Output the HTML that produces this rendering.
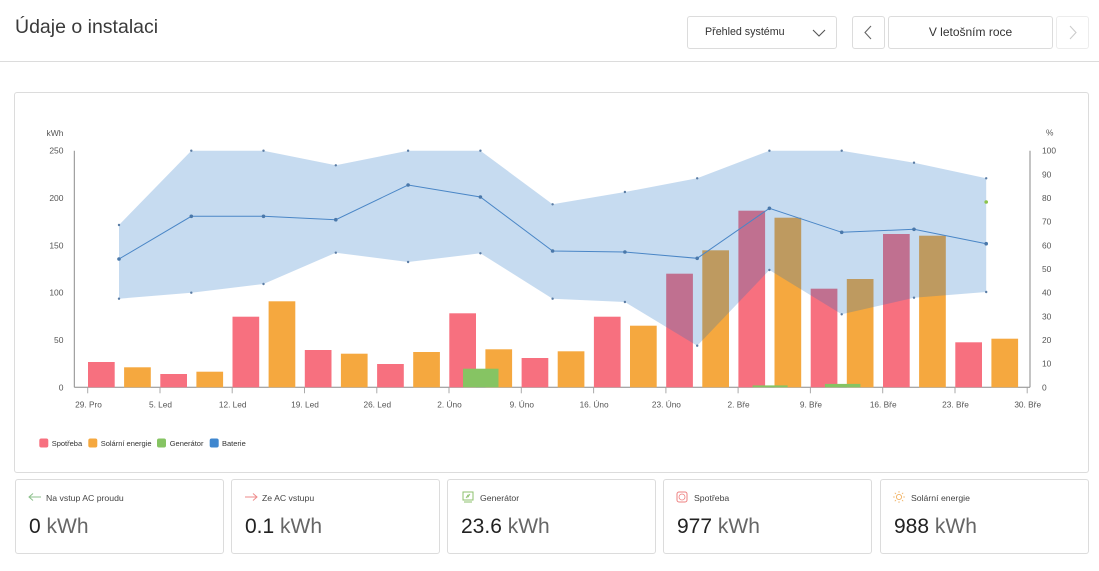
<!DOCTYPE html>
<html>
<head>
<meta charset="utf-8">
<style>
  html,body{margin:0;padding:0;background:#fff;}
  body{width:1099px;height:571px;position:relative;overflow:hidden;font-family:"Liberation Sans",Arial,sans-serif;}
  .title{position:absolute;left:15px;top:14px;font-size:19.5px;color:#3a3a3a;line-height:26px;}
  .hline{position:absolute;left:0;top:61px;width:1099px;height:1px;background:#dcdcdc;}
  .btn{position:absolute;border:1px solid #dcdcdc;border-radius:3px;box-sizing:border-box;background:#fff;}
  .btntext{position:absolute;font-size:10.7px;color:#333;line-height:14px;}
  .card{position:absolute;top:479px;height:75px;width:209px;border:1px solid #dcdcdc;border-radius:3px;box-sizing:border-box;background:#fff;}
  .lbl{position:absolute;left:30px;top:12px;font-size:8.7px;color:#444;line-height:12px;white-space:nowrap;}
  .val{position:absolute;left:13px;top:34px;font-size:21px;color:#222;line-height:26px;white-space:nowrap;}
  .val span{color:#666;}
  .ico{position:absolute;left:12px;top:12px;}
</style>
</head>
<body>
<div class="title">Údaje o instalaci</div>
<div class="hline"></div>

<div class="btn" style="left:687px;top:16px;width:150px;height:33px;"></div>
<div class="btntext" style="left:705px;top:25px;">Přehled systému</div>
<svg style="position:absolute;left:812px;top:28px" width="14" height="10"><polyline points="1,2 7,8 13,2" fill="none" stroke="#555" stroke-width="1.1"/></svg>

<div class="btn" style="left:852px;top:16px;width:33px;height:33px;"></div>
<svg style="position:absolute;left:863px;top:25px" width="10" height="15"><polyline points="8,1 2,7.5 8,14" fill="none" stroke="#666" stroke-width="1.1"/></svg>
<div class="btn" style="left:888px;top:16px;width:165px;height:33px;"></div>
<div class="btntext" style="left:888px;width:165px;text-align:center;top:25px;font-size:12px;">V letošním roce</div>
<div class="btn" style="left:1056px;top:16px;width:33px;height:33px;border-color:#ececec;"></div>
<svg style="position:absolute;left:1068px;top:25px" width="10" height="15"><polyline points="2,1 8,7.5 2,14" fill="none" stroke="#ccc" stroke-width="1.1"/></svg>

<div style="position:absolute;left:14px;top:92px;width:1075px;height:381px;border:1px solid #dcdcdc;border-radius:3px;box-sizing:border-box;"></div>

<svg style="position:absolute;left:0;top:0" width="1099" height="571" font-family="Liberation Sans, Arial, sans-serif">
  <!-- axes -->
  <line x1="74.3" y1="150.7" x2="74.3" y2="387.3" stroke="#8a8a8a" stroke-width="1"/>
  <line x1="1030" y1="150.7" x2="1030" y2="387.3" stroke="#8a8a8a" stroke-width="1"/>
  <line x1="74.3" y1="387.3" x2="1030" y2="387.3" stroke="#8a8a8a" stroke-width="1"/>
  <g stroke="#aaa" stroke-width="1">
    <line x1="87.7" y1="387.3" x2="87.7" y2="393.3"/>
    <line x1="160" y1="387.3" x2="160" y2="393.3"/>
    <line x1="232.2" y1="387.3" x2="232.2" y2="393.3"/>
    <line x1="304.5" y1="387.3" x2="304.5" y2="393.3"/>
    <line x1="376.8" y1="387.3" x2="376.8" y2="393.3"/>
    <line x1="449" y1="387.3" x2="449" y2="393.3"/>
    <line x1="521.3" y1="387.3" x2="521.3" y2="393.3"/>
    <line x1="593.6" y1="387.3" x2="593.6" y2="393.3"/>
    <line x1="665.9" y1="387.3" x2="665.9" y2="393.3"/>
    <line x1="738.1" y1="387.3" x2="738.1" y2="393.3"/>
    <line x1="810.4" y1="387.3" x2="810.4" y2="393.3"/>
    <line x1="882.7" y1="387.3" x2="882.7" y2="393.3"/>
    <line x1="955" y1="387.3" x2="955" y2="393.3"/>
    <line x1="1027.2" y1="387.3" x2="1027.2" y2="393.3"/>
  </g>

  <!-- left y labels -->
  <g font-size="8.5" fill="#555" text-anchor="end">
    <text x="63.5" y="136">kWh</text>
    <text x="63.5" y="153.7">250</text>
    <text x="63.5" y="201">200</text>
    <text x="63.5" y="248.3">150</text>
    <text x="63.5" y="295.6">100</text>
    <text x="63.5" y="343">50</text>
    <text x="63.5" y="390.3">0</text>
  </g>
  <!-- right y labels -->
  <g font-size="8.4" fill="#555" text-anchor="start">
    <text x="1046" y="135.7">%</text>
    <text x="1042" y="153.7">100</text>
    <text x="1042" y="177.4">90</text>
    <text x="1042" y="201">80</text>
    <text x="1042" y="224.7">70</text>
    <text x="1042" y="248.3">60</text>
    <text x="1042" y="272">50</text>
    <text x="1042" y="295.6">40</text>
    <text x="1042" y="319.3">30</text>
    <text x="1042" y="343">20</text>
    <text x="1042" y="366.6">10</text>
    <text x="1042" y="390.3">0</text>
  </g>
  <!-- x labels -->
  <g font-size="8.3" fill="#555" text-anchor="middle">
    <text x="88.5" y="407.5">29. Pro</text>
    <text x="160.5" y="407.5">5. Led</text>
    <text x="232.7" y="407.5">12. Led</text>
    <text x="305" y="407.5">19. Led</text>
    <text x="377.3" y="407.5">26. Led</text>
    <text x="449.5" y="407.5">2. Úno</text>
    <text x="521.8" y="407.5">9. Úno</text>
    <text x="594.1" y="407.5">16. Úno</text>
    <text x="666.4" y="407.5">23. Úno</text>
    <text x="738.6" y="407.5">2. Bře</text>
    <text x="810.9" y="407.5">9. Bře</text>
    <text x="883.2" y="407.5">16. Bře</text>
    <text x="955.5" y="407.5">23. Bře</text>
    <text x="1027.7" y="407.5">30. Bře</text>
  </g>

  <!-- bars -->
  <g fill="#f7707f">
    <rect x="88" y="362" width="26.7" height="25.3"/>
    <rect x="160.3" y="374" width="26.7" height="13.3"/>
    <rect x="232.5" y="316.7" width="26.7" height="70.6"/>
    <rect x="304.8" y="350" width="26.7" height="37.3"/>
    <rect x="377.1" y="364" width="26.7" height="23.3"/>
    <rect x="449.3" y="313.3" width="26.7" height="74"/>
    <rect x="521.6" y="358" width="26.7" height="29.3"/>
    <rect x="593.9" y="316.7" width="26.7" height="70.6"/>
    <rect x="666.2" y="273.7" width="26.7" height="113.6"/>
    <rect x="738.4" y="210.7" width="26.7" height="176.6"/>
    <rect x="810.7" y="288.7" width="26.7" height="98.6"/>
    <rect x="883" y="234" width="26.7" height="153.3"/>
    <rect x="955.3" y="342.3" width="26.7" height="45"/>
  </g>
  <g fill="#f5a83f">
    <rect x="124.1" y="367.3" width="26.7" height="20"/>
    <rect x="196.4" y="371.7" width="26.7" height="15.6"/>
    <rect x="268.6" y="301.3" width="26.7" height="86"/>
    <rect x="340.9" y="353.7" width="26.7" height="33.6"/>
    <rect x="413.2" y="352" width="26.7" height="35.3"/>
    <rect x="485.4" y="349.3" width="26.7" height="38"/>
    <rect x="557.7" y="351.3" width="26.7" height="36"/>
    <rect x="630" y="325.7" width="26.7" height="61.6"/>
    <rect x="702.3" y="250.3" width="26.7" height="137"/>
    <rect x="774.5" y="217.7" width="26.7" height="169.6"/>
    <rect x="846.8" y="279" width="26.7" height="108.3"/>
    <rect x="919.1" y="235.7" width="26.7" height="151.6"/>
    <rect x="991.4" y="338.7" width="26.7" height="48.6"/>
  </g>
  <g fill="#86c463">
    <rect x="463" y="368.7" width="35.5" height="18.6"/>
    <rect x="752.6" y="385.4" width="35" height="1.9"/>
    <rect x="824.9" y="383.9" width="35.5" height="3.4"/>
  </g>

  <!-- battery range area -->
  <polygon fill="rgba(28,112,196,0.25)" points="
    119,225 191.3,150.7 263.5,150.7 335.8,165.3 408.1,150.7 480.4,150.7 552.6,204.3 624.9,192 697.2,178.3 769.4,150.7 841.7,150.7 914,162.7 986.2,178.3
    986.2,292 914,297.7 841.7,314.3 769.4,270 697.2,345.7 624.9,302 552.6,298.7 480.4,253.3 408.1,262 335.8,252.7 263.5,284 191.3,292.7 119,298.7"/>
  <polyline fill="none" stroke="#4a86c6" stroke-width="1" points="119,259 191.3,216.3 263.5,216.3 335.8,219.7 408.1,185 480.4,197 552.6,251 624.9,252 697.2,258.3 769.4,208.3 841.7,232.3 914,229.3 986.2,243.7"/>
  <g fill="#4a78aa">
    <circle cx="119" cy="259" r="1.8"/><circle cx="191.3" cy="216.3" r="1.8"/><circle cx="263.5" cy="216.3" r="1.8"/><circle cx="335.8" cy="219.7" r="1.8"/><circle cx="408.1" cy="185" r="1.8"/><circle cx="480.4" cy="197" r="1.8"/><circle cx="552.6" cy="251" r="1.8"/><circle cx="624.9" cy="252" r="1.8"/><circle cx="697.2" cy="258.3" r="1.8"/><circle cx="769.4" cy="208.3" r="1.8"/><circle cx="841.7" cy="232.3" r="1.8"/><circle cx="914" cy="229.3" r="1.8"/><circle cx="986.2" cy="243.7" r="1.8"/>
  </g>
  <g fill="#5a7ca4">
    <circle cx="119" cy="225" r="1.2"/><circle cx="191.3" cy="150.7" r="1.2"/><circle cx="263.5" cy="150.7" r="1.2"/><circle cx="335.8" cy="165.3" r="1.2"/><circle cx="408.1" cy="150.7" r="1.2"/><circle cx="480.4" cy="150.7" r="1.2"/><circle cx="552.6" cy="204.3" r="1.2"/><circle cx="624.9" cy="192" r="1.2"/><circle cx="697.2" cy="178.3" r="1.2"/><circle cx="769.4" cy="150.7" r="1.2"/><circle cx="841.7" cy="150.7" r="1.2"/><circle cx="914" cy="162.7" r="1.2"/><circle cx="986.2" cy="178.3" r="1.2"/>
    <circle cx="119" cy="298.7" r="1.2"/><circle cx="191.3" cy="292.7" r="1.2"/><circle cx="263.5" cy="284" r="1.2"/><circle cx="335.8" cy="252.7" r="1.2"/><circle cx="408.1" cy="262" r="1.2"/><circle cx="480.4" cy="253.3" r="1.2"/><circle cx="552.6" cy="298.7" r="1.2"/><circle cx="624.9" cy="302" r="1.2"/><circle cx="697.2" cy="345.7" r="1.2"/><circle cx="769.4" cy="270" r="1.2"/><circle cx="841.7" cy="314.3" r="1.2"/><circle cx="914" cy="297.7" r="1.2"/><circle cx="986.2" cy="292" r="1.2"/>
  </g>
  <circle cx="986.2" cy="202" r="1.8" fill="#8bc34a"/>

  <!-- legend -->
  <g font-size="7.5" fill="#333">
    <rect x="39.3" y="438.5" width="9" height="9" rx="2" fill="#f7707f"/>
    <text x="51.7" y="446">Spotřeba</text>
    <rect x="88.3" y="438.5" width="9" height="9" rx="2" fill="#f5a83f"/>
    <text x="100.7" y="446">Solární energie</text>
    <rect x="157" y="438.5" width="9" height="9" rx="2" fill="#86c463"/>
    <text x="169.7" y="446">Generátor</text>
    <rect x="209.7" y="438.5" width="9" height="9" rx="2" fill="#3f87cf"/>
    <text x="222" y="446">Baterie</text>
  </g>
</svg>

<div class="card" style="left:15px;">
  <svg class="ico" width="14" height="10"><line x1="1" y1="5" x2="13" y2="5" stroke="#8cc08c" stroke-width="1"/><polyline points="5,1.5 1,5 5,8.5" fill="none" stroke="#8cc08c" stroke-width="1"/></svg>
  <div class="lbl">Na vstup AC proudu</div>
  <div class="val">0 <span>kWh</span></div>
</div>
<div class="card" style="left:231px;">
  <svg class="ico" width="14" height="10"><line x1="1" y1="5" x2="13" y2="5" stroke="#ee8a8a" stroke-width="1"/><polyline points="9,1.5 13,5 9,8.5" fill="none" stroke="#ee8a8a" stroke-width="1"/></svg>
  <div class="lbl">Ze AC vstupu</div>
  <div class="val">0.1 <span>kWh</span></div>
</div>
<div class="card" style="left:447px;">
  <svg class="ico" style="left:14px;top:11px" width="12" height="12"><rect x="1" y="1" width="10" height="8" fill="none" stroke="#8cc06c" stroke-width="1"/><polyline points="4,7 6,4 6,6 8,3" fill="none" stroke="#8cc06c" stroke-width="0.8"/><line x1="2" y1="11" x2="10" y2="11" stroke="#8cc06c" stroke-width="1"/></svg>
  <div class="lbl" style="left:32px;">Generátor</div>
  <div class="val">23.6 <span>kWh</span></div>
</div>
<div class="card" style="left:663px;">
  <svg class="ico" style="left:12px;top:11px" width="12" height="12"><rect x="1" y="1" width="10" height="10" rx="2" fill="none" stroke="#ee8080" stroke-width="1"/><circle cx="6" cy="6" r="3" fill="none" stroke="#ee8080" stroke-width="0.8"/></svg>
  <div class="lbl">Spotřeba</div>
  <div class="val">977 <span>kWh</span></div>
</div>
<div class="card" style="left:880px;">
  <svg class="ico" style="left:12px;top:11px" width="12" height="12"><circle cx="6" cy="6" r="2.6" fill="none" stroke="#f0b060" stroke-width="0.9"/><g stroke="#f0b060" stroke-width="0.8"><line x1="6" y1="0" x2="6" y2="1.8"/><line x1="6" y1="10.2" x2="6" y2="12"/><line x1="0" y1="6" x2="1.8" y2="6"/><line x1="10.2" y1="6" x2="12" y2="6"/><line x1="1.8" y1="1.8" x2="3" y2="3"/><line x1="9" y1="9" x2="10.2" y2="10.2"/><line x1="10.2" y1="1.8" x2="9" y2="3"/><line x1="3" y1="9" x2="1.8" y2="10.2"/></g></svg>
  <div class="lbl">Solární energie</div>
  <div class="val">988 <span>kWh</span></div>
</div>
</body>
</html>
